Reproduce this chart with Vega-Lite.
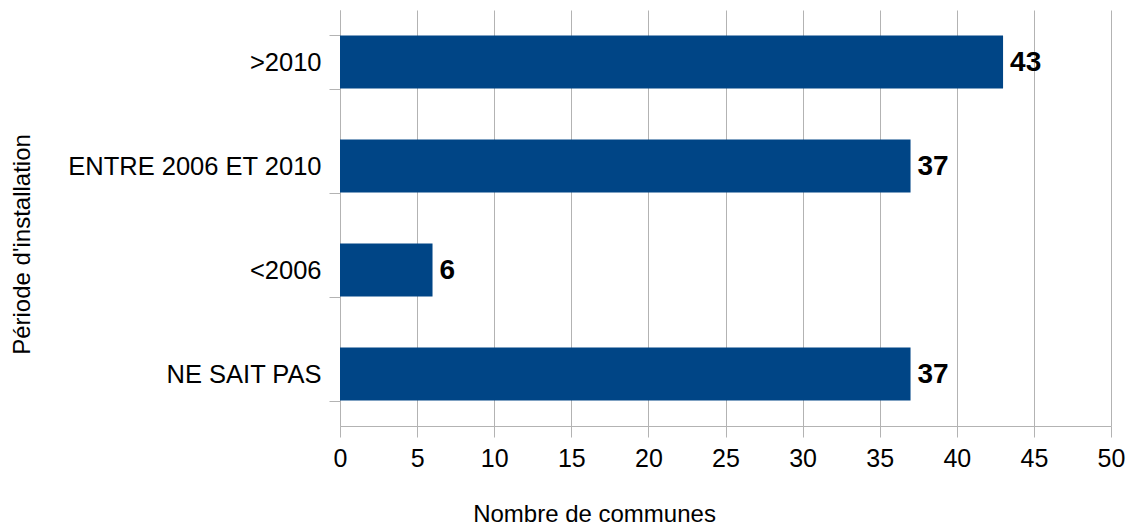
{
  "$schema": "https://vega.github.io/schema/vega-lite/v6.json",
  "autosize": {"type": "none"},
  "padding": {"left": 340, "top": 10, "right": 19, "bottom": 101},
  "width": 771,
  "height": 416,
  "background": "white",
  "data": {"values": [
    {"periode": ">2010", "n": 43},
    {"periode": "ENTRE 2006 ET 2010", "n": 37},
    {"periode": "<2006", "n": 6},
    {"periode": "NE SAIT PAS", "n": 37}
  ]},
  "config": {
    "view": {"stroke": null},
    "font": "Liberation Sans",
    "axis": {
      "domainColor": "#b3b3b3",
      "tickColor": "#b3b3b3",
      "gridColor": "#b3b3b3",
      "labelFont": "Liberation Sans",
      "titleFont": "Liberation Sans",
      "labelColor": "#000000",
      "titleColor": "#000000",
      "titleFontWeight": "normal"
    }
  },
  "encoding": {
    "y": {
      "field": "periode", "type": "nominal", "sort": null,
      "scale": {"paddingInner": 0.49, "paddingOuter": 0.245},
      "axis": {
        "title": "Période d'installation",
        "titleFontSize": 24,
        "titleX": -318,
        "titleY": 234,
        "titleAngle": -90,
        "titleAlign": "center",
        "titleBaseline": "middle",
        "labelFontSize": 25.5,
        "labelLimit": 400,
        "labelPadding": 8,
        "tickSize": 11,
        "tickBand": "extent",
        "grid": false,
        "domain": true
      }
    },
    "x": {
      "field": "n", "type": "quantitative",
      "scale": {"domain": [0, 50], "nice": false},
      "axis": {
        "title": "Nombre de communes",
        "titleFontSize": 24,
        "titleX": 254,
        "titleY": 95,
        "titleAlign": "center",
        "titleBaseline": "alphabetic",
        "values": [0, 5, 10, 15, 20, 25, 30, 35, 40, 45, 50],
        "labelFontSize": 25,
        "labelPadding": 9,
        "tickSize": 11,
        "grid": true,
        "labelFlush": false
      }
    }
  },
  "layer": [
    {"mark": {"type": "bar", "color": "#004586"}},
    {
      "mark": {"type": "text", "align": "left", "baseline": "middle", "dx": 7, "dy": 1, "fontSize": 28, "fontWeight": "bold", "color": "#000000", "font": "Liberation Sans"},
      "encoding": {"text": {"field": "n", "type": "quantitative"}}
    }
  ]
}
